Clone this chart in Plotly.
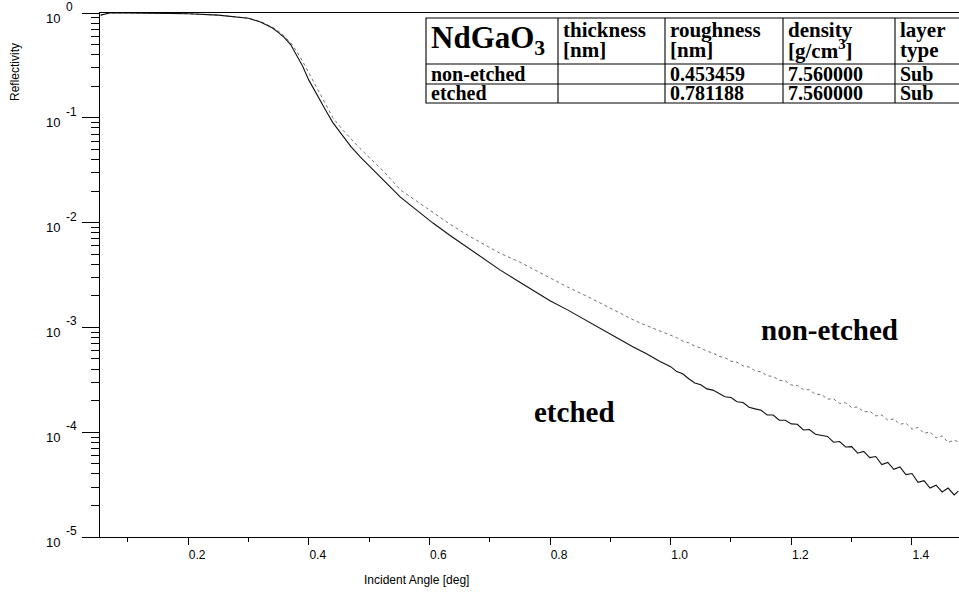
import math
import plotly.graph_objects as go

# ---------------- data ----------------
etched_angle = [0.055, 0.060, 0.070, 0.100, 0.150, 0.200, 0.250, 0.300, 0.320, 0.340,
                0.350, 0.360, 0.370, 0.380, 0.390, 0.400, 0.410, 0.420, 0.430, 0.440,
                0.457, 0.470, 0.485, 0.500, 0.525, 0.552, 0.580, 0.606, 0.635, 0.663,
                0.690, 0.717, 0.750, 0.780, 0.800, 0.829, 0.860, 0.890, 0.910, 0.938,
                0.960, 0.980,
                1.00, 1.01, 1.02, 1.03, 1.04, 1.05, 1.06, 1.07, 1.08, 1.09,
                1.10, 1.11, 1.12, 1.13, 1.14, 1.15, 1.16, 1.17, 1.18, 1.19,
                1.20, 1.21, 1.22, 1.23, 1.24, 1.25, 1.26, 1.27, 1.28, 1.29,
                1.30, 1.31, 1.32, 1.33, 1.34, 1.35, 1.36, 1.37, 1.38, 1.39,
                1.40, 1.41, 1.42, 1.43, 1.44, 1.45, 1.46, 1.47, 1.477]
etched_R = [0.955, 0.975, 1.0, 1.0, 0.995, 0.985, 0.955, 0.89, 0.82, 0.72,
            0.65, 0.58, 0.50, 0.40, 0.31, 0.23, 0.18, 0.145, 0.113, 0.090,
            0.066, 0.053, 0.0425, 0.035, 0.025, 0.0175, 0.0130, 0.0099, 0.0075, 0.0058,
            0.0045, 0.00354, 0.00270, 0.00210, 0.00180, 0.00147, 0.00116, 0.00092, 0.00080, 0.00065,
            0.00056, 0.00048,
            4.22e-4, 3.79e-4, 3.61e-4, 3.24e-4, 2.95e-4, 2.83e-4, 2.59e-4, 2.52e-4, 2.36e-4, 2.18e-4,
            2.14e-4, 1.95e-4, 1.92e-4, 1.73e-4, 1.67e-4, 1.62e-4, 1.46e-4, 1.46e-4, 1.30e-4, 1.30e-4,
            1.20e-4, 1.19e-4, 1.05e-4, 1.06e-4, 9.55e-5, 9.40e-5, 9.12e-5, 8.02e-5, 8.15e-5, 7.23e-5,
            7.29e-5, 6.31e-5, 6.55e-5, 5.73e-5, 5.86e-5, 4.92e-5, 5.15e-5, 4.43e-5, 4.66e-5, 3.94e-5,
            4.03e-5, 3.32e-5, 3.45e-5, 2.93e-5, 3.12e-5, 2.69e-5, 2.93e-5, 2.52e-5, 2.74e-5]

nonetched_angle = [0.055, 0.060, 0.070, 0.100, 0.150, 0.200, 0.250, 0.300, 0.320, 0.340,
                   0.350, 0.360, 0.370, 0.380, 0.390, 0.400, 0.410, 0.420, 0.430, 0.440,
                   0.457, 0.470, 0.485, 0.500, 0.525, 0.552, 0.580, 0.606, 0.635, 0.663,
                   0.690, 0.717, 0.750, 0.780, 0.800, 0.829, 0.860, 0.890, 0.910, 0.938,
                   0.960, 0.980,
                   1.00, 1.01, 1.02, 1.03, 1.04, 1.05, 1.06, 1.07, 1.08, 1.09,
                   1.10, 1.11, 1.12, 1.13, 1.14, 1.15, 1.16, 1.17, 1.18, 1.19,
                   1.20, 1.21, 1.22, 1.23, 1.24, 1.25, 1.26, 1.27, 1.28, 1.29,
                   1.30, 1.31, 1.32, 1.33, 1.34, 1.35, 1.36, 1.37, 1.38, 1.39,
                   1.40, 1.41, 1.42, 1.43, 1.44, 1.45, 1.46, 1.47, 1.477]
nonetched_R = [0.955, 0.975, 1.0, 1.0, 0.995, 0.985, 0.955, 0.89, 0.83, 0.73,
               0.67, 0.60, 0.52, 0.43, 0.345, 0.265, 0.21, 0.165, 0.13, 0.10,
               0.076, 0.063, 0.051, 0.042, 0.0305, 0.0205, 0.0158, 0.0124, 0.0096, 0.0076,
               0.0062, 0.0051, 0.0042, 0.0034, 0.0030, 0.00243, 0.00200, 0.00164, 0.00143, 0.00118,
               0.00104, 0.00093,
               8.36e-4, 7.98e-4, 7.41e-4, 7.13e-4, 6.61e-4, 6.38e-4, 5.92e-4, 5.71e-4, 5.30e-4, 5.15e-4,
               4.76e-4, 4.65e-4, 4.29e-4, 4.19e-4, 3.85e-4, 3.77e-4, 3.46e-4, 3.40e-4, 3.12e-4, 3.09e-4,
               2.82e-4, 2.79e-4, 2.55e-4, 2.54e-4, 2.30e-4, 2.29e-4, 2.07e-4, 2.08e-4, 1.88e-4, 1.91e-4,
               1.72e-4, 1.74e-4, 1.56e-4, 1.59e-4, 1.43e-4, 1.46e-4, 1.30e-4, 1.34e-4, 1.19e-4, 1.22e-4,
               1.07e-4, 1.11e-4, 9.73e-5, 1.01e-4, 8.81e-5, 9.23e-5, 7.98e-5, 8.41e-5, 8.05e-5]

x_tick_vals = [0.2, 0.4, 0.6, 0.8, 1.0, 1.2, 1.4]
x_tick_text = ["0.2", "0.4", "0.6", "0.8", "1.0", "1.2", "1.4"]
x_minor_vals = [0.1, 0.3, 0.5, 0.7, 0.9, 1.1, 1.3]
y_tick_vals = [1e-5, 1e-4, 1e-3, 1e-2, 1e-1, 1]
y_tick_exp = ["-5", "-4", "-3", "-2", "-1", "0"]
y_minor_vals = [m * 10.0 ** e for e in range(-5, 0) for m in range(2, 10)]

table_header_title = "NdGaO<sub>3</sub>"
table_header_top = ["thickness", "roughness", "density", "layer"]
table_header_bottom = ["[nm]", "[nm]", "[g/cm<sup>3</sup>]", "type"]
table_rows = [["non-etched", "", "0.453459", "7.560000", "Sub"],
              ["etched", "", "0.781188", "7.560000", "Sub"]]

# ---------------- layout geometry (pixels) ----------------
W, H = 959, 595
L, T, B = 100, 13, 537


def px(x):
    return (x - L) / (W - L)


def py(y):
    return (B - y) / (B - T)


fig = go.Figure()
fig.add_trace(go.Scatter(x=nonetched_angle, y=nonetched_R, mode="lines",
                         line=dict(color="#707070", width=1, dash="dot"),
                         name="non-etched"))
fig.add_trace(go.Scatter(x=etched_angle, y=etched_R, mode="lines",
                         line=dict(color="#111111", width=1.1),
                         name="etched"))

serif = "Liberation Serif"
sans = "Liberation Sans"

shapes = []
annotations = []

# table
col_x = [426, 558, 665, 783, 895]
row_y = [18, 64, 84, 103]
right_edge = 965
lw = 1.1
shapes.append(dict(type="rect", xref="paper", yref="paper",
                   x0=px(col_x[0]), x1=px(right_edge), y0=py(row_y[-1]), y1=py(row_y[0]),
                   line=dict(color="black", width=lw), fillcolor="white", layer="above"))
for cx in col_x[1:]:
    shapes.append(dict(type="line", xref="paper", yref="paper",
                       x0=px(cx), x1=px(cx), y0=py(row_y[-1]), y1=py(row_y[0]),
                       line=dict(color="black", width=lw), layer="above"))
for ry in row_y[1:-1]:
    shapes.append(dict(type="line", xref="paper", yref="paper",
                       x0=px(col_x[0]), x1=px(right_edge), y0=py(ry), y1=py(ry),
                       line=dict(color="black", width=lw), layer="above"))


def txt(x, y, s, size, family=serif, anchor="left", angle=0, bold=True):
    annotations.append(dict(xref="paper", yref="paper", x=px(x), y=py(y),
                            xanchor=anchor, yanchor="middle", showarrow=False,
                            textangle=angle, borderpad=0,
                            text=("<b>" + s + "</b>") if bold else s,
                            font=dict(family=family, size=size, color="black")))


txt(col_x[0] + 4, 40, table_header_title, 31)
for i in range(4):
    txt(col_x[i + 1] + 4, 30, table_header_top[i], 21)
    txt(col_x[i + 1] + 4, 50, table_header_bottom[i], 21)
row_centers = [74, 93.5]
for r, row in enumerate(table_rows):
    for i, cell in enumerate(row):
        if cell:
            txt(col_x[i] + 4, row_centers[r], cell, 20)

# curve labels
txt(829, 330, "non-etched", 29, anchor="center")
txt(574, 412, "etched", 29, anchor="center")

# axis titles
txt(15, 72, "Reflectivity", 12, family=sans, anchor="center", angle=-90, bold=False)
txt(416, 580, "Incident Angle [deg]", 12, family=sans, anchor="center", bold=False)

# y tick labels (10 with raised exponent)
for v, e in zip(y_tick_vals, y_tick_exp):
    lv = math.log10(v)
    annotations.append(dict(xref="paper", yref="y", x=px(62), y=lv, yshift=-5,
                            xanchor="right", yanchor="middle", showarrow=False,
                            text="10", font=dict(family=sans, size=13, color="black")))
    annotations.append(dict(xref="paper", yref="y", x=px(64), y=lv, yshift=6,
                            xanchor="left", yanchor="middle", showarrow=False,
                            text=e, font=dict(family=sans, size=12, color="black")))

fig.update_layout(
    width=W, height=H,
    margin=dict(l=L, r=0, t=T, b=H - B, pad=0),
    paper_bgcolor="white", plot_bgcolor="white",
    showlegend=False,
    shapes=shapes, annotations=annotations,
    xaxis=dict(range=[0.054, 1.478], tickmode="array", tickvals=x_tick_vals,
               ticktext=x_tick_text, ticks="outside", ticklen=7, tickwidth=1,
               tickcolor="black", showline=True, linecolor="black", linewidth=1,
               mirror=True, showgrid=False, zeroline=False, ticklabelshift=9,
               tickfont=dict(family=sans, size=12, color="black"),
               minor=dict(tickvals=x_minor_vals, ticks="outside", ticklen=4,
                          tickcolor="black", tickwidth=1, showgrid=False)),
    yaxis=dict(type="log", range=[-5, 0], tickmode="array", tickvals=y_tick_vals,
               showticklabels=False,
               ticks="outside", ticklen=17, tickwidth=1,
               tickcolor="black", showline=True, linecolor="black", linewidth=1,
               showgrid=False, zeroline=False,
               minor=dict(tickvals=y_minor_vals, ticks="outside", ticklen=8,
                          tickcolor="black", tickwidth=1, showgrid=False)),
)

fig.write_html("out.html")
